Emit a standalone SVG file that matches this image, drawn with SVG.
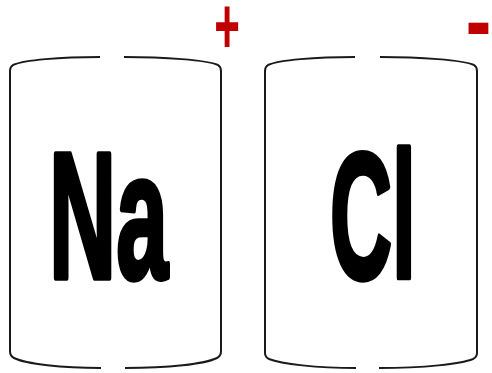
<svg xmlns="http://www.w3.org/2000/svg" width="492" height="373" viewBox="0 0 492 373">
<style>
.c{fill:none;stroke:#1a1a1a;stroke-width:2;stroke-linecap:butt}
.el{font-family:"Liberation Sans",Arial,sans-serif;font-weight:bold;font-size:100px;fill:#000;stroke:#000;stroke-width:3;stroke-linejoin:round}
.sg{font-family:"Liberation Sans",Arial,sans-serif;font-weight:bold;fill:#C00000}
</style>
<rect width="492" height="373" fill="#fff"/>
<g id="na">
<path class="c" d="M100,57 C60,57 24,60 13,65 Q10,67 10,71 L10,351 Q10,356 14,358 C26,364 62,368 101,368"/>
<path class="c" d="M124,57 C164,57 207,60 218,65 Q221,67 221,71 L221,351 Q221,356 217,358 C205,364 168,368 125,368"/>
<text class="el" transform="translate(49,278) scale(0.93,1.8)">Na</text>
<text class="sg" font-size="44" text-anchor="middle" transform="translate(227,53) scale(1,1.8)">+</text>
</g>
<g id="cl">
<path class="c" d="M355,57 C315,57 279,60 268,65 Q265,67 265,71 L265,353 Q265,357 269,359 C281,364 317,368 356,368"/>
<path class="c" d="M380,57 C420,57 463,60 474,65 Q477,67 477,71 L477,353 Q477,357 473,359 C461,364 424,368 379,368"/>
<text class="el" transform="translate(330,278) scale(0.86,1.8)">Cl</text>
<text class="sg" font-size="78" text-anchor="middle" transform="translate(478.5,53) scale(1,1.2)">-</text>
</g>
</svg>
